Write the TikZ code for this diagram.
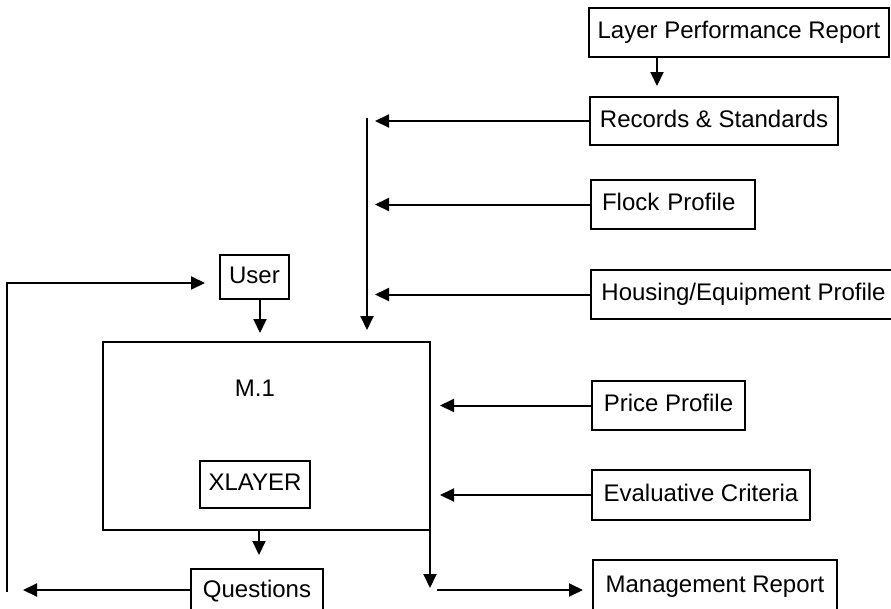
\documentclass[tikz,border=0pt]{standalone}
\usepackage{fontspec}
\setmainfont{Liberation Sans}
\usetikzlibrary{arrows.meta}
\tikzset{
  box/.style={draw, line width=2.2pt, inner sep=0pt, outer sep=0pt, anchor=north west,
    text height=17pt, text depth=5pt, font=\fontsize{24pt}{28pt}\selectfont},
  lbl/.style={inner sep=0pt, font=\fontsize{24pt}{28pt}\selectfont},
  arr/.style={line width=2pt, -{Triangle[length=14pt,width=13pt]}}
}
\begin{document}
\begin{tikzpicture}[x=1pt,y=-1pt]
\clip (0,0) rectangle (891,608);
% boxes
\node[box, minimum width=300pt, minimum height=49pt] (lpr) at (589,8) {Layer Performance Report};
\node[box, minimum width=248pt, minimum height=48pt] (rs) at (590,97) {Records \& Standards};
\node[box, minimum width=164pt, minimum height=49pt, text width=142pt, align=left] (flock) at (591,180) {Flock Profile};
\node[box, minimum width=305pt, minimum height=49pt] (housing) at (591,270) {Housing/Equipment Profile};
\node[box, minimum width=153pt, minimum height=49pt] (price) at (592,381) {Price Profile};
\node[box, minimum width=218pt, minimum height=50pt] (eval) at (592,470) {Evaluative Criteria};
\node[box, minimum width=244pt, text height=32pt, text depth=30pt] (mgmt) at (593,560) {Management Report};
\node[box, minimum width=132pt, text height=28pt, text depth=25pt] (questions) at (191,569) {Questions};
\node[box, minimum width=69pt, minimum height=44pt] (user) at (220,255) {User};
\node[box, minimum width=327pt, minimum height=188pt] (m1) at (103,342) {};
\node[lbl] (m1lbl) at (255,388) {M.1};
\node[box, minimum width=110pt, minimum height=47pt] (xlayer) at (200,461) {XLAYER};
% free ends
\coordinate (rsIn) at (657,86);
\coordinate (busIn) at (375,0);
\coordinate (busTop) at (367,118);
\coordinate (busEnd) at (367,330);
\coordinate (m1Side) at (440,0);
\coordinate (m1In) at (260,333);
\coordinate (qIn) at (259,555);
\coordinate (qOut) at (23,590);
\coordinate (loopBot) at (7,592);
\coordinate (userIn) at (205,283);
\coordinate (repDown) at (432,588);
\coordinate (repStart) at (437,590);
% connectors
\draw[arr] (lpr.south -| rsIn) -- (rsIn);
\draw[arr] (rs.west) -- (rs.west -| busIn);
\draw[arr] (flock.west) -- (flock.west -| busIn);
\draw[arr] (housing.west) -- (housing.west -| busIn);
\draw[arr] (busTop) -- (busEnd);
\draw[arr] (price.west) -- (price.west -| m1Side);
\draw[arr] (eval.west) -- (eval.west -| m1Side);
\draw[arr] (user.south -| m1In) -- (m1In);
\draw[arr] (m1.south -| qIn) -- (qIn);
\draw[arr] (questions.west |- qOut) -- (qOut);
\draw[arr] (loopBot) |- (userIn);
\draw[arr] (m1.south east) -- (m1.south east |- repDown);
\draw[arr, shorten >=10pt] (repStart) -- (mgmt.west |- repStart);
\end{tikzpicture}
\end{document}
